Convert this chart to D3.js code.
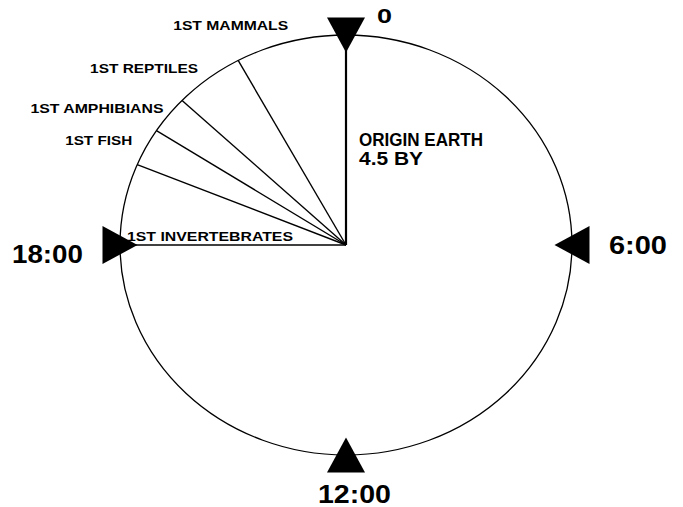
<!DOCTYPE html>
<html>
<head>
<meta charset="utf-8">
<script src="https://cdn.jsdelivr.net/npm/d3@7"></script>
<style>
  body { margin: 0; background: #fff; }
  text { font-family: "Liberation Sans", Arial, sans-serif; font-weight: 700; fill: #000; }
</style>
</head>
<body>
<div id="clock"></div>
<script>

// events on the 24h "earth clock" (hour of first appearance)
var events = ["1ST INVERTEBRATES", "1ST FISH", "1ST AMPHIBIANS", "1ST REPTILES", "1ST MAMMALS"];
var eventHours = [18.0, 19.5, 20.2, 20.9, 22.1];

// quarter marks
var markHours = [0, 6, 12, 18];
var markLabels = ["0", "6:00", "12:00", "18:00"];

var width = 683, height = 507;
var cx = 346, cy = 245, rx = 226, ry = 210;

var angle = d3.scaleLinear().domain([0, 24]).range([0, 2 * Math.PI]);

function px(h) { return cx + rx * Math.sin(angle(h)); }
function py(h) { return cy - ry * Math.cos(angle(h)); }

var svg = d3.select("#clock")
    .append("svg")
    .attr("width", width)
    .attr("height", height);

// the clock face
svg.append("ellipse")
    .attr("cx", cx).attr("cy", cy)
    .attr("rx", rx).attr("ry", ry)
    .attr("fill", "none")
    .attr("stroke", "#000")
    .attr("stroke-width", 1.3);

// origin line (0)
svg.append("line")
    .attr("x1", cx).attr("y1", cy)
    .attr("x2", px(0)).attr("y2", py(0))
    .attr("stroke", "#000")
    .attr("stroke-width", 2.2);

// event lines
svg.selectAll(".evline")
    .data(eventHours)
    .enter().append("line")
    .attr("class", "evline")
    .attr("x1", cx).attr("y1", cy)
    .attr("x2", function(d) { return px(d); })
    .attr("y2", function(d) { return py(d); })
    .attr("stroke", "#000")
    .attr("stroke-width", 1.4);

// event labels: offset from the line end, and width
var labelStyle = [
    { dx: 7, dy: -4, w: 166, anchor: "start" },
    { dx: -5, dy: -20, w: 67, anchor: "end" },
    { dx: 7, dy: -18, w: 133, anchor: "end" },
    { dx: 16, dy: -27, w: 108, anchor: "end" },
    { dx: 50, dy: -30, w: 115, anchor: "end" }
];

svg.selectAll(".evlabel")
    .data(events)
    .enter().append("text")
    .attr("class", "evlabel")
    .attr("x", function(d, i) {
        var s = labelStyle[i];
        var x = px(eventHours[i]) + s.dx;
        return s.anchor == "end" ? x - s.w : x;
    })
    .attr("y", function(d, i) { return py(eventHours[i]) + labelStyle[i].dy; })
    .attr("textLength", function(d, i) { return labelStyle[i].w; })
    .attr("lengthAdjust", "spacingAndGlyphs")
    .style("font-size", "12.5px")
    .text(function(d) { return d; });

// triangles on the quarter marks, pointing to the centre
var triDepth = 35, triBase = 38;
svg.selectAll(".tri")
    .data(markHours)
    .enter().append("path")
    .attr("class", "tri")
    .attr("d", function(h) {
        var a = angle(h);
        var ux = -Math.sin(a), uy = Math.cos(a);   // inward direction
        var vx = -uy, vy = ux;                     // along the base
        var x0 = px(h), y0 = py(h);
        var tip = [x0 + ux * triDepth / 2, y0 + uy * triDepth / 2];
        var b1 = [x0 - ux * triDepth / 2 + vx * triBase / 2, y0 - uy * triDepth / 2 + vy * triBase / 2];
        var b2 = [x0 - ux * triDepth / 2 - vx * triBase / 2, y0 - uy * triDepth / 2 - vy * triBase / 2];
        return "M" + tip + "L" + b1 + "L" + b2 + "Z";
    })
    .attr("fill", "#000");

// quarter labels
var markStyle = [
    { x: 377, y: 23, w: 15, size: 20 },
    { x: 609, y: 254, w: 58, size: 25 },
    { x: 318, y: 503, w: 73, size: 25 },
    { x: 12, y: 263, w: 71, size: 25 }
];

svg.selectAll(".mark")
    .data(markLabels)
    .enter().append("text")
    .attr("class", "mark")
    .attr("x", function(d, i) { return markStyle[i].x; })
    .attr("y", function(d, i) { return markStyle[i].y; })
    .attr("textLength", function(d, i) { return markStyle[i].w; })
    .attr("lengthAdjust", "spacingAndGlyphs")
    .style("font-size", function(d, i) { return markStyle[i].size + "px"; })
    .text(function(d) { return d; });

// origin note
var originLines = ["ORIGIN EARTH", "4.5 BY"];
var originWidths = [124, 64];
svg.selectAll(".origin")
    .data(originLines)
    .enter().append("text")
    .attr("class", "origin")
    .attr("x", 359)
    .attr("y", function(d, i) { return 146 + i * 19; })
    .attr("textLength", function(d, i) { return originWidths[i]; })
    .attr("lengthAdjust", "spacingAndGlyphs")
    .style("font-size", "19px")
    .text(function(d) { return d; });

</script>
</body>
</html>
